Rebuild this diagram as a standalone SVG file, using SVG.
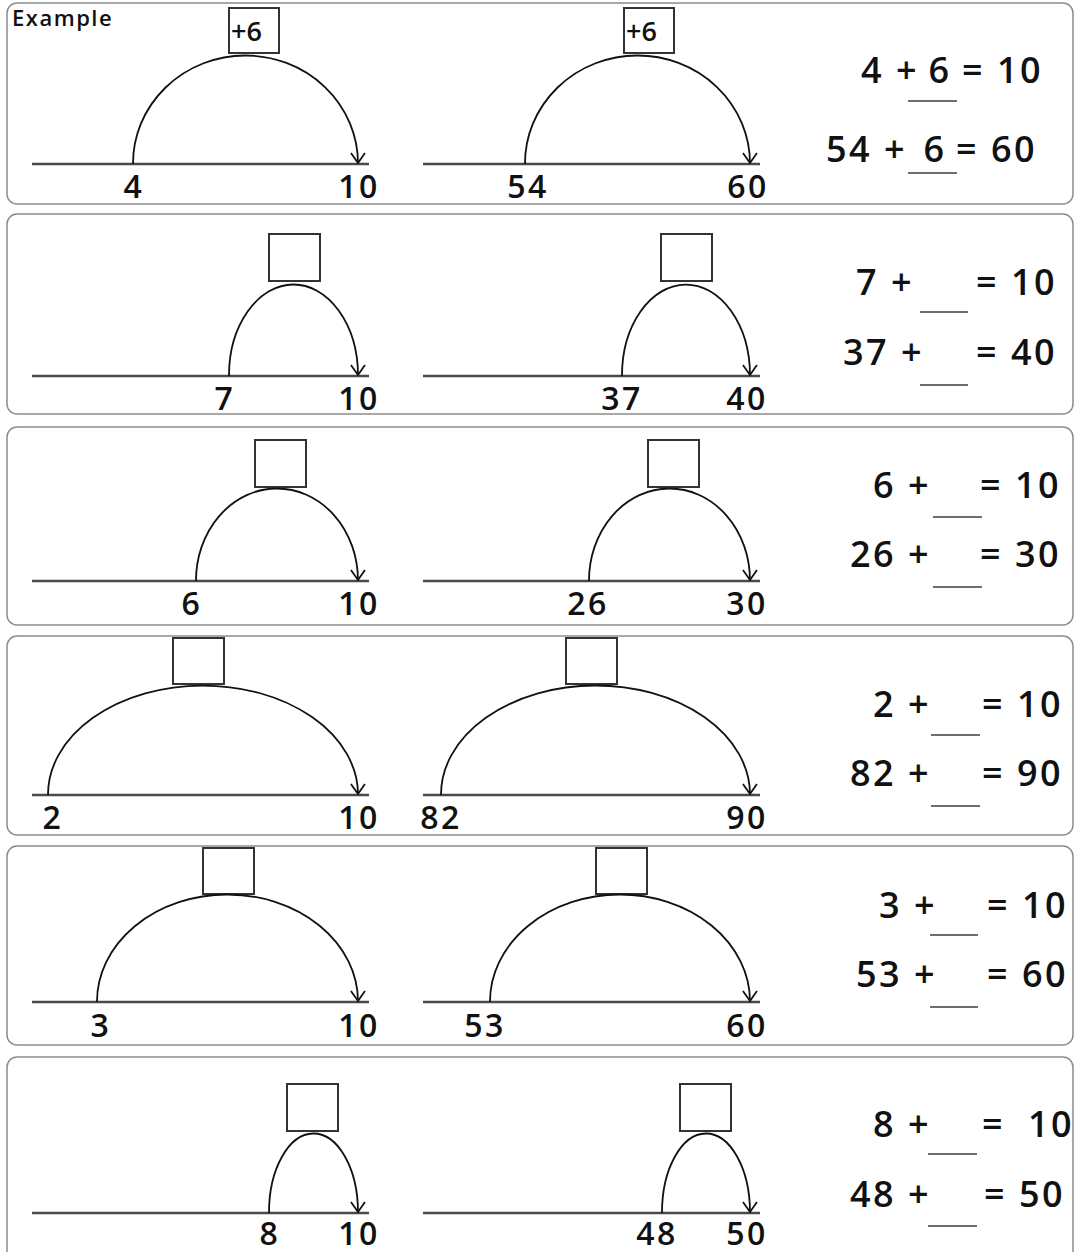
<svg xmlns="http://www.w3.org/2000/svg" width="1075" height="1252" viewBox="0 0 1075 1252">
<style>
.panel{fill:#fff;stroke:#8c8c8c;stroke-width:1.5}
.nl{stroke:#4a4a4a;stroke-width:2.5}
.arc{fill:none;stroke:#111;stroke-width:1.8}
.box{fill:#fff;stroke:#333;stroke-width:2}
.ul{stroke:#6e6e6e;stroke-width:2}
.lbl{font-family:"Open Sans","Noto Sans",sans-serif;font-size:32px;font-weight:600;fill:#111;text-anchor:middle;letter-spacing:2.5px}
.eq{font-family:"Open Sans","Noto Sans",sans-serif;font-size:36px;font-weight:600;fill:#111;letter-spacing:2.5px}
.end{text-anchor:end}
.mid{text-anchor:middle}
.ex{font-family:"Open Sans","Noto Sans",sans-serif;font-size:22px;font-weight:600;fill:#111;letter-spacing:1.5px}
.bt{font-family:"Open Sans","Noto Sans",sans-serif;font-size:27px;font-weight:600;fill:#111}
</style>
<defs>
<marker id="ah" markerUnits="userSpaceOnUse" markerWidth="20" markerHeight="20" refX="0" refY="0" viewBox="-12 -10 14 20" orient="auto">
<path d="M-10,-7 L0,0 L-10,7" fill="none" stroke="#111" stroke-width="1.8"/>
</marker>
</defs>
<rect width="1075" height="1252" fill="#fff"/>

<g id="panel1">
<rect class="panel" x="7" y="3" width="1066" height="201" rx="10"/>
<text class="ex" x="12" y="26">Example</text>
<line class="nl" x1="32" y1="164" x2="369" y2="164"/>
<line class="nl" x1="423" y1="164" x2="760" y2="164"/>
<rect class="box" x="229" y="8" width="50" height="45"/>
<text class="bt" x="231" y="41">+6</text>
<rect class="box" x="624" y="8" width="50" height="45"/>
<text class="bt" x="626" y="41">+6</text>
<text class="lbl" x="134" y="198">4</text>
<text class="lbl" x="359" y="198">10</text>
<text class="lbl" x="528" y="198">54</text>
<text class="lbl" x="748" y="198">60</text>
<text class="eq end" x="919" y="83">4 +</text>
<text class="eq mid" x="940" y="83">6</text>
<text class="eq" x="962" y="83">= 10</text>
<line class="ul" x1="908" y1="101" x2="957" y2="101"/>
<text class="eq end" x="907" y="162">54 +</text>
<text class="eq mid" x="935" y="162">6</text>
<text class="eq" x="956" y="162">= 60</text>
<line class="ul" x1="908" y1="173" x2="957" y2="173"/>
</g>

<g id="panel2">
<rect class="panel" x="7" y="214" width="1066" height="200" rx="10"/>
<line class="nl" x1="32" y1="376" x2="369" y2="376"/>
<line class="nl" x1="423" y1="376" x2="760" y2="376"/>
<rect class="box" x="269" y="234" width="51" height="47"/>
<rect class="box" x="661" y="234" width="51" height="47"/>
<text class="lbl" x="225" y="410">7</text>
<text class="lbl" x="359" y="410">10</text>
<text class="lbl" x="622" y="410">37</text>
<text class="lbl" x="747" y="410">40</text>
<text class="eq end" x="914" y="295">7 +</text>
<text class="eq" x="976" y="295">= 10</text>
<line class="ul" x1="920" y1="312" x2="968" y2="312"/>
<text class="eq end" x="924" y="365">37 +</text>
<text class="eq" x="976" y="365">= 40</text>
<line class="ul" x1="920" y1="385" x2="968" y2="385"/>
</g>

<g id="panel3">
<rect class="panel" x="7" y="427" width="1066" height="198" rx="10"/>
<line class="nl" x1="32" y1="581" x2="369" y2="581"/>
<line class="nl" x1="423" y1="581" x2="760" y2="581"/>
<rect class="box" x="255" y="440" width="51" height="47"/>
<rect class="box" x="648" y="440" width="51" height="47"/>
<text class="lbl" x="192" y="615">6</text>
<text class="lbl" x="359" y="615">10</text>
<text class="lbl" x="588" y="615">26</text>
<text class="lbl" x="747" y="615">30</text>
<text class="eq end" x="931" y="498">6 +</text>
<text class="eq" x="980" y="498">= 10</text>
<line class="ul" x1="933" y1="517" x2="982" y2="517"/>
<text class="eq end" x="931" y="567">26 +</text>
<text class="eq" x="980" y="567">= 30</text>
<line class="ul" x1="933" y1="587" x2="982" y2="587"/>
</g>

<g id="panel4">
<rect class="panel" x="7" y="636" width="1066" height="199" rx="10"/>
<line class="nl" x1="32" y1="795" x2="369" y2="795"/>
<line class="nl" x1="423" y1="795" x2="760" y2="795"/>
<rect class="box" x="173" y="638" width="51" height="46"/>
<rect class="box" x="566" y="638" width="51" height="46"/>
<text class="lbl" x="53" y="829">2</text>
<text class="lbl" x="359" y="829">10</text>
<text class="lbl" x="441" y="829">82</text>
<text class="lbl" x="747" y="829">90</text>
<text class="eq end" x="931" y="717">2 +</text>
<text class="eq" x="982" y="717">= 10</text>
<line class="ul" x1="931" y1="735" x2="980" y2="735"/>
<text class="eq end" x="931" y="786">82 +</text>
<text class="eq" x="982" y="786">= 90</text>
<line class="ul" x1="931" y1="806" x2="980" y2="806"/>
</g>

<g id="panel5">
<rect class="panel" x="7" y="846" width="1066" height="199" rx="10"/>
<line class="nl" x1="32" y1="1002" x2="369" y2="1002"/>
<line class="nl" x1="423" y1="1002" x2="760" y2="1002"/>
<rect class="box" x="203" y="848" width="51" height="46"/>
<rect class="box" x="596" y="848" width="51" height="46"/>
<text class="lbl" x="101" y="1037">3</text>
<text class="lbl" x="359" y="1037">10</text>
<text class="lbl" x="485" y="1037">53</text>
<text class="lbl" x="747" y="1037">60</text>
<text class="eq end" x="937" y="918">3 +</text>
<text class="eq" x="987" y="918">= 10</text>
<line class="ul" x1="930" y1="935" x2="978" y2="935"/>
<text class="eq end" x="937" y="987">53 +</text>
<text class="eq" x="987" y="987">= 60</text>
<line class="ul" x1="930" y1="1007" x2="978" y2="1007"/>
</g>

<g id="panel6">
<rect class="panel" x="7" y="1057" width="1066" height="210" rx="10"/>
<line class="nl" x1="32" y1="1213" x2="369" y2="1213"/>
<line class="nl" x1="423" y1="1213" x2="760" y2="1213"/>
<rect class="box" x="287" y="1084" width="51" height="47"/>
<rect class="box" x="680" y="1084" width="51" height="47"/>
<text class="lbl" x="270" y="1245">8</text>
<text class="lbl" x="359" y="1245">10</text>
<text class="lbl" x="657" y="1245">48</text>
<text class="lbl" x="747" y="1245">50</text>
<text class="eq end" x="931" y="1137">8 +</text>
<text class="eq" x="982" y="1137">=</text>
<text class="eq" x="1028" y="1137">10</text>
<line class="ul" x1="928" y1="1154" x2="977" y2="1154"/>
<text class="eq end" x="931" y="1207">48 +</text>
<text class="eq" x="984" y="1207">= 50</text>
<line class="ul" x1="928" y1="1226" x2="977" y2="1226"/>
</g>

<g id="connectors">
<path class="arc" marker-end="url(#ah)" d="M133,164 A112.5,108 0 0 1 358,163"/>
<path class="arc" marker-end="url(#ah)" d="M525,164 A112.5,108 0 0 1 750,163"/>
<path class="arc" marker-end="url(#ah)" d="M229,376 A64.5,91 0 0 1 358,375"/>
<path class="arc" marker-end="url(#ah)" d="M622,376 A64,91 0 0 1 750,375"/>
<path class="arc" marker-end="url(#ah)" d="M196,581 A81,92 0 0 1 358,580"/>
<path class="arc" marker-end="url(#ah)" d="M589,581 A80.5,92 0 0 1 750,580"/>
<path class="arc" marker-end="url(#ah)" d="M48,795 A155,109 0 0 1 358,794"/>
<path class="arc" marker-end="url(#ah)" d="M441,795 A154.5,109 0 0 1 750,794"/>
<path class="arc" marker-end="url(#ah)" d="M97,1002 A130.5,107 0 0 1 358,1001"/>
<path class="arc" marker-end="url(#ah)" d="M490,1002 A130,107 0 0 1 750,1001"/>
<path class="arc" marker-end="url(#ah)" d="M269,1213 A44.5,79 0 0 1 358,1212"/>
<path class="arc" marker-end="url(#ah)" d="M662,1213 A44,79 0 0 1 750,1212"/>
</g>
</svg>
